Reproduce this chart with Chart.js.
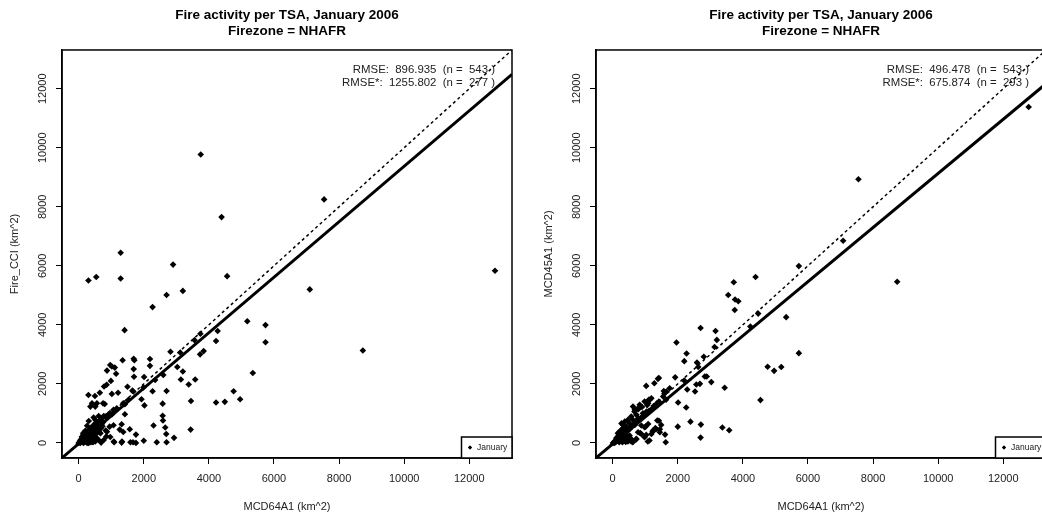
<!DOCTYPE html>
<html>
<head>
<meta charset="utf-8">
<script src="https://cdn.jsdelivr.net/npm/chart.js@4.4.1/dist/chart.umd.min.js"></script>
<style>
  html, body { margin: 0; padding: 0; background: #fff; overflow: hidden; width: 1042px; height: 519px; }
  .panel { position: absolute; top: 0; }
</style>
</head>
<body>
<canvas id="cciChart" class="panel" width="534" height="519" style="left:0px"></canvas>
<canvas id="mcd45Chart" class="panel" width="534" height="519" style="left:534px"></canvas>
<script>
// chart text
const titleLines = ['Fire activity per TSA, January 2006', 'Firezone = NHAFR'];
const xLabel = 'MCD64A1 (km^2)';
const seriesName = 'January';

// axes (km^2)
const axisRange = [-512, 13312];
const axisTicks = [0, 2000, 4000, 6000, 8000, 10000, 12000];

// Fire_CCI vs MCD64A1  [MCD64A1, Fire_CCI]
const cciPoints = [
  [3750, 9770], [4390, 7650], [7540, 8250], [1290, 6440], [12790, 5830], [2900, 6040],
  [300, 5500], [540, 5620], [1290, 5570], [4560, 5650], [2700, 5010], [3200, 5150],
  [7100, 5200], [2270, 4600], [1410, 3820], [5180, 4120], [5740, 3990], [5740, 3410],
  [8730, 3130], [4270, 3790], [3740, 3700], [3560, 3480], [4220, 3450], [3840, 3110],
  [3730, 3000], [2820, 3090], [3120, 3060], [5350, 2370], [3030, 2570], [3200, 2420],
  [3140, 2150], [3580, 2150], [3380, 1980], [2700, 1760], [2270, 1750], [4760, 1750],
  [4960, 1480], [4220, 1370], [4490, 1390], [3450, 1420], [3440, 450], [2580, 1330],
  [2300, 590], [2580, 920], [2590, 760], [2660, 520], [2690, 300], [2930, 170],
  [2400, 20], [2700, 20], [2190, 2840], [2190, 2610], [2010, 2230], [2020, 1270],
  [2000, 70], [1690, 2850], [1710, 2800], [1690, 2500], [1700, 2240], [1650, 1770],
  [1930, 1480], [1500, 1900], [1350, 2800], [1420, 1310], [1420, 970], [1320, 630],
  [1260, 450], [1370, 370], [1320, 10], [1570, 460], [1590, 20], [1670, 20],
  [1760, 280], [1760, 0], [1090, 20], [970, 2640], [1020, 2590], [1110, 2550],
  [1150, 2340], [1210, 1700], [1070, 600], [870, 2450], [860, 1970], [780, 1910],
  [990, 2100], [1020, 1660], [960, 1010], [1020, 960], [800, 1320], [500, 1590],
  [300, 1620], [650, 1700], [850, 220], [690, 10], [830, 420], [950, 550],
  [910, 950], [1070, 1120], [1170, 1170], [1370, 1340], [1530, 1460], [1680, 1740],
  [1990, 1880], [2350, 2130], [2600, 2300],
  [410, 1340], [510, 1230], [360, 1230], [560, 1340], [750, 1340], [615, 910],
  [770, 910], [870, 910], [460, 860], [310, 740], [260, 580], [410, 520],
  [560, 690], [150, 290], [205, 410], [100, 210], [670, 330], [770, 100],
  [615, 100], [510, 200], [410, 100], [870, 380], [970, 200], [1080, 45],
  [1330, 45], [0, 0], [50, 0], [100, 45], [150, 100], [205, 160],
  [255, 215], [305, 270], [360, 330], [410, 380], [460, 440], [510, 500],
  [560, 550], [615, 665], [205, 45], [255, 45], [305, 100], [360, 160],
  [410, 215], [460, 270], [150, 0], [305, 0], [410, 25], [510, 45],
  [560, 160], [255, 380], [150, 270], [100, 160], [360, 500], [460, 610],
  [510, 780], [670, 780], [720, 830], [820, 890], [30, 20], [80, 60],
  [120, 80], [180, 130], [220, 120], [260, 180], [280, 100], [330, 200],
  [350, 60], [200, 250], [240, 300], [120, 170], [170, 60], [60, 100],
  [300, 400], [400, 300], [450, 150], [380, 420], [220, 350], [140, 330],
  [260, 0], [350, 20], [450, 30], [480, 350], [530, 400], [600, 470],
  [650, 560], [700, 620], [750, 700],
  [200, 80], [240, 140], [290, 160], [330, 120], [380, 250], [430, 330],
  [190, 190], [90, 130], [40, 60], [280, 320], [340, 280], [250, 260],
  [480, 200], [520, 300], [580, 350], [620, 420], [680, 500], [730, 560]
];

// MCD45A1 vs MCD64A1  [MCD64A1, MCD45A1]
const mcd45Points = [
  [7550, 8930], [7080, 6850], [12780, 11380], [8740, 5460], [5720, 5990], [4390, 5620],
  [3720, 5440], [3550, 5010], [3760, 4860], [3860, 4800], [3750, 4500], [4470, 4380],
  [4230, 3940], [5330, 4260], [5720, 3040], [2700, 3890], [3160, 3790], [3200, 3490],
  [3130, 3250], [1960, 3400], [2270, 3030], [2200, 2770], [2590, 2720], [2800, 2920],
  [2630, 2570], [2830, 2250], [2890, 2250], [2680, 2000], [3030, 2060], [2570, 1980],
  [2530, 1740], [2290, 1810], [2200, 2110], [1920, 2220], [3440, 1870], [4760, 2580],
  [5180, 2570], [4960, 2440], [4540, 1450], [2010, 1370], [2260, 1200], [2000, 550],
  [2390, 720], [2710, 620], [2700, 180], [3370, 520], [3580, 430], [1610, 280],
  [1630, 20], [1450, 460], [1490, 610], [1280, 440], [1230, 390], [1310, 500],
  [1420, 750], [1390, 2170], [1420, 2200], [1280, 2020], [1030, 1930], [1570, 1760],
  [1590, 1670], [1640, 1460], [1110, 1460], [1060, 1280], [1330, 1270], [1010, 550],
  [1030, 270], [1130, 80], [1080, 45], [850, 330], [720, 120], [900, 1220],
  [790, 1140], [670, 1060],
  [625, 1230], [680, 1120], [780, 1170], [830, 1290], [980, 1400], [1090, 1340],
  [1140, 1460], [1190, 1510], [930, 1000], [730, 950], [570, 890], [470, 780],
  [370, 720], [320, 610], [270, 660], [420, 550], [520, 660], [620, 780],
  [780, 830], [1040, 1060], [1550, 1570], [1650, 1740], [1750, 1850],
  [10, 0], [60, 0], [110, 45], [160, 100], [215, 160], [265, 215],
  [320, 270], [370, 330], [420, 380], [470, 440], [160, 215], [215, 270],
  [265, 330], [320, 380], [370, 440], [420, 500], [265, 440], [320, 500],
  [160, 330], [215, 380], [370, 215], [420, 160], [470, 215], [265, 100],
  [320, 80], [110, 160], [570, 550], [680, 610], [520, 460],
  [1090, 640], [980, 530], [880, 590], [1340, 470], [1240, 420], [1190, 300],
  [980, 190], [880, 300], [780, 360], [730, 135], [570, 135], [520, 250],
  [1450, 360], [1370, 760], [470, 45], [570, 45], [620, 20], [400, 30],
  [300, 20], [200, 20],
  [50, 40], [90, 80], [130, 120], [180, 170], [230, 220], [280, 260],
  [330, 310], [380, 360], [430, 420], [480, 470], [540, 520], [600, 580],
  [660, 650], [720, 700], [800, 770], [860, 840], [920, 900], [1000, 960],
  [1060, 1010], [1120, 1090], [1200, 1150], [1260, 1250], [1350, 1330], [1420, 1400]
];

// regression lines [intercept, slope]
const cciFit = [-26, 0.94];
const mcd45Fit = [-37, 0.917];

const cciRmse = ['RMSE:  896.935  (n =  543 )', 'RMSE*:  1255.802  (n =  277 )'];
const mcd45Rmse = ['RMSE:  496.478  (n =  543 )', 'RMSE*:  675.874  (n =  293 )'];

const fontFamily = "'Liberation Sans', Arial, Helvetica, sans-serif";

// box round the plot, RMSE notes and the small legend
const framePlugin = {
    id: 'frame',
    afterDraw(chart, args, opts) {
        const { ctx, chartArea: a } = chart;
        ctx.save();
        ctx.strokeStyle = '#000';
        ctx.lineWidth = 1.5;
        ctx.strokeRect(a.left, a.top, a.right - a.left, a.bottom - a.top);

        ctx.fillStyle = '#222';
        ctx.font = '11.4px ' + fontFamily;
        ctx.textAlign = 'right';
        ctx.textBaseline = 'middle';
        opts.rmse.forEach((line, i) => {
            ctx.fillText(line, a.right - 17, a.top + 20 + i * 13);
        });

        // legend
        const lw = 50.5, lh = 21;
        ctx.fillStyle = '#fff';
        ctx.fillRect(a.right - lw, a.bottom - lh, lw, lh);
        ctx.strokeRect(a.right - lw, a.bottom - lh, lw, lh);
        ctx.fillStyle = '#000';
        Chart.helpers.drawPoint(ctx, { pointStyle: 'rectRot', radius: 2, borderWidth: 0 },
            a.right - lw + 8.5, a.bottom - lh / 2);
        ctx.fill();
        ctx.fillStyle = '#222';
        ctx.font = '8.5px ' + fontFamily;
        ctx.textAlign = 'left';
        ctx.fillText(seriesName, a.right - lw + 15.5, a.bottom - lh / 2);
        ctx.restore();
    }
};

const fitLine = (fit) => axisRange.map(x => ({ x: x, y: fit[0] + fit[1] * x }));

const axisOptions = (label, side) => ({
    type: 'linear',
    min: axisRange[0],
    max: axisRange[1],
    afterBuildTicks: s => { s.ticks = axisTicks.map(v => ({ value: v })) },
    afterFit: side === 'x' ? s => { s.height = 61 } : s => { s.width = 62 },
    grid: { drawOnChartArea: false, drawTicks: true, tickLength: 6, tickColor: '#000', tickWidth: 1 },
    border: { display: true, color: '#000', width: 1.5 },
    ticks: side === 'x'
        ? { color: '#222', font: { family: fontFamily, size: 11 }, padding: 8, maxRotation: 0, autoSkip: false, callback: v => String(v) }
        : { color: '#222', font: { family: fontFamily, size: 11 }, padding: -2, minRotation: 90, maxRotation: 90, crossAlign: 'center', autoSkip: false, callback: v => String(v) },
    title: {
        display: true, text: label, color: '#222', font: { family: fontFamily, size: 11 },
        padding: side === 'x' ? { top: 0, bottom: 5.7 } : { top: 8.4, bottom: 0 },
    },
});

const makeChart = (id, yLabel, points, fit, rmse) => {
    return new Chart(document.getElementById(id), {
        type: 'scatter',
        data: {
            datasets: [
                {
                    label: seriesName,
                    data: points.map(p => ({ x: p[0], y: p[1] })),
                    pointStyle: 'rectRot',
                    pointRadius: 3.3,
                    backgroundColor: '#000',
                    borderWidth: 0,
                    order: 2,
                },
                {
                    type: 'line',
                    label: '1:1',
                    data: axisRange.map(v => ({ x: v, y: v })),
                    borderColor: '#000',
                    borderWidth: 1.5,
                    borderDash: [3, 3],
                    pointRadius: 0,
                    clip: 0,
                    order: 1,
                },
                {
                    type: 'line',
                    label: 'fit',
                    data: fitLine(fit),
                    borderColor: '#000',
                    borderWidth: 3,
                    pointRadius: 0,
                    clip: 0,
                    order: 0,
                },
            ],
        },
        options: {
            responsive: false,
            animation: false,
            devicePixelRatio: 1,
            layout: { padding: { top: 0, right: 22, left: 0, bottom: 0 } },
            plugins: {
                legend: { display: false },
                tooltip: { enabled: false },
                title: {
                    display: true,
                    text: titleLines,
                    fullSize: false,
                    color: '#000',
                    font: { family: fontFamily, size: 13.5, weight: 'bold', lineHeight: 1.24 },
                    padding: { top: 6.6, bottom: 9.9 },
                },
                frame: { rmse: rmse },
            },
            scales: {
                x: axisOptions(xLabel, 'x'),
                y: axisOptions(yLabel, 'y'),
            },
        },
        plugins: [framePlugin],
    });
};

makeChart('cciChart', 'Fire_CCI (km^2)', cciPoints, cciFit, cciRmse);
makeChart('mcd45Chart', 'MCD45A1 (km^2)', mcd45Points, mcd45Fit, mcd45Rmse);
</script>
</body>
</html>
